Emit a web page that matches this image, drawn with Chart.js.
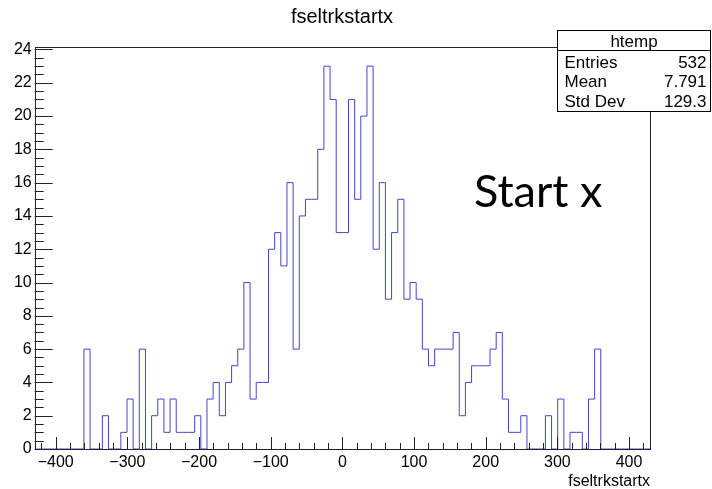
<!DOCTYPE html>
<html>
<head>
<meta charset="utf-8">
<title>fseltrkstartx</title>
<script src="https://cdn.jsdelivr.net/npm/chart.js@4.4.1/dist/chart.umd.min.js"></script>
<style>
  html, body { margin: 0; padding: 0; background: #ffffff; }
  canvas { display: block; }
</style>
</head>
<body>
<canvas id="hist" width="712" height="489"></canvas>
<script>
// Histogram htemp of fseltrkstartx: 100 equal bins over the axis range
const axisRange = [-429.3, 429.3];
const binCounts = [
  0, 0, 0, 0, 0, 0, 0, 0, 6, 0,
  0, 2, 0, 0, 1, 3, 0, 6, 0, 2,
  3, 1, 3, 1, 1, 1, 2, 0, 3, 4,
  2, 4, 5, 6, 10, 3, 4, 4, 12, 13,
  11, 16, 6, 14, 15, 15, 18, 23, 21, 13,
  13, 21, 15, 20, 23, 12, 16, 9, 13, 15,
  9, 10, 9, 6, 5, 6, 6, 6, 7, 2,
  4, 5, 5, 5, 6, 7, 3, 1, 1, 2,
  0, 0, 0, 2, 0, 3, 0, 1, 1, 0,
  3, 6, 0, 0, 0, 0, 0, 0, 0, 0
];
const xTickValues = [-400, -300, -200, -100, 0, 100, 200, 300, 400];
const yTickValues = [0, 2, 4, 6, 8, 10, 12, 14, 16, 18, 20, 22, 24];
const statsRows = [
  ['Entries', '532'],
  ['Mean', '7.791'],
  ['Std Dev', '129.3']
];
const histName = 'htemp';
const varName = 'fseltrkstartx';
const annotation = 'Start x';

// Bin low edges -> stepped outline points (each count holds until the next edge)
const nBins = binCounts.length;
const binWidth = (axisRange[1] - axisRange[0]) / nBins;
const outline = binCounts.map((c, i) => ({ x: axisRange[0] + i * binWidth, y: c }));
outline.push({ x: axisRange[1], y: binCounts[nBins - 1] });
const yMax = Math.max(...binCounts) * 1.05;

const FONT = '"Liberation Sans", Arial, Helvetica, sans-serif';

const rootDecor = {
  id: 'rootDecor',
  afterDatasetsDraw(chart) {
    const { ctx, chartArea: a, scales } = chart;
    const xs = scales.x, ys = scales.y;
    ctx.save();
    ctx.strokeStyle = '#222222';
    ctx.lineWidth = 1;

    // frame
    ctx.strokeRect(Math.round(a.left) + 0.5, Math.round(a.top) + 0.5,
                   Math.round(a.right - a.left), Math.round(a.bottom - a.top));

    // x ticks: major every 100, minor every 20, drawn inward
    ctx.beginPath();
    for (let v = -420; v <= 420; v += 20) {
      const px = Math.round(xs.getPixelForValue(v)) + 0.5;
      const len = (v % 100 === 0) ? 12 : 6;
      ctx.moveTo(px, a.bottom);
      ctx.lineTo(px, a.bottom - len);
    }
    // y ticks: major every 2, minor every 0.5
    for (let v = 0; v <= 24; v += 0.5) {
      const py = Math.round(ys.getPixelForValue(v)) + 0.5;
      const len = (v % 2 === 0) ? 18 : 9;
      ctx.moveTo(a.left, py);
      ctx.lineTo(a.left + len, py);
    }
    ctx.stroke();

    // main title
    ctx.fillStyle = '#000000';
    ctx.font = '20px ' + FONT;
    ctx.textAlign = 'center';
    ctx.textBaseline = 'alphabetic';
    ctx.fillText(varName, 342, 23);

    // x axis title
    ctx.font = '16px ' + FONT;
    ctx.textAlign = 'right';
    ctx.fillText(varName, a.right, 486);

    // stats box
    const bx = 557.5, by = 30.5, bw = 153, bh = 81, hh = 20;
    ctx.fillStyle = '#ffffff';
    ctx.fillRect(bx, by, bw, bh);
    ctx.strokeStyle = '#000000';
    ctx.strokeRect(bx, by, bw, bh);
    ctx.beginPath();
    ctx.moveTo(bx, by + hh);
    ctx.lineTo(bx + bw, by + hh);
    ctx.stroke();
    ctx.fillStyle = '#000000';
    ctx.font = '17px ' + FONT;
    ctx.textAlign = 'center';
    ctx.fillText(histName, bx + bw / 2, by + 16);
    statsRows.forEach((r, i) => {
      const ty = by + hh + 17 + i * 19.5;
      ctx.textAlign = 'left';
      ctx.fillText(r[0], bx + 7, ty);
      ctx.textAlign = 'right';
      ctx.fillText(r[1], bx + bw - 4, ty);
    });

    // annotation
    ctx.font = '45px Lato, "Open Sans", sans-serif';
    ctx.textAlign = 'left';
    ctx.fillText(annotation, 474, 207);
    ctx.restore();
  }
};

new Chart(document.getElementById('hist'), {
  type: 'line',
  data: {
    datasets: [{
      label: histName,
      data: outline,
      stepped: 'before',
      borderColor: '#4444cc',
      borderWidth: 1,
      pointRadius: 0,
      fill: false,
      tension: 0
    }]
  },
  options: {
    responsive: false,
    animation: false,
    layout: { padding: { top: 47, right: 62, left: 0, bottom: 0 } },
    plugins: {
      legend: { display: false },
      tooltip: { enabled: false },
      title: { display: false }
    },
    scales: {
      x: {
        type: 'linear',
        min: axisRange[0],
        max: axisRange[1],
        afterFit(scale) { scale.height = 40; },
        afterBuildTicks(scale) { scale.ticks = xTickValues.map(v => ({ value: v })); },
        ticks: {
          autoSkip: false,
          maxRotation: 0,
          padding: 4,
          color: '#000000',
          font: { family: FONT, size: 16 },
          callback: v => (v < 0 ? '\u2212' + Math.abs(v) : String(v))
        },
        grid: { display: false, drawTicks: false },
        border: { display: false }
      },
      y: {
        type: 'linear',
        min: 0,
        max: yMax,
        afterFit(scale) { scale.width = 34.7; },
        afterBuildTicks(scale) { scale.ticks = yTickValues.map(v => ({ value: v })); },
        ticks: {
          autoSkip: false,
          padding: 3,
          color: '#000000',
          font: { family: FONT, size: 16 }
        },
        grid: { display: false, drawTicks: false },
        border: { display: false }
      }
    }
  },
  plugins: [rootDecor]
});
</script>
</body>
</html>
